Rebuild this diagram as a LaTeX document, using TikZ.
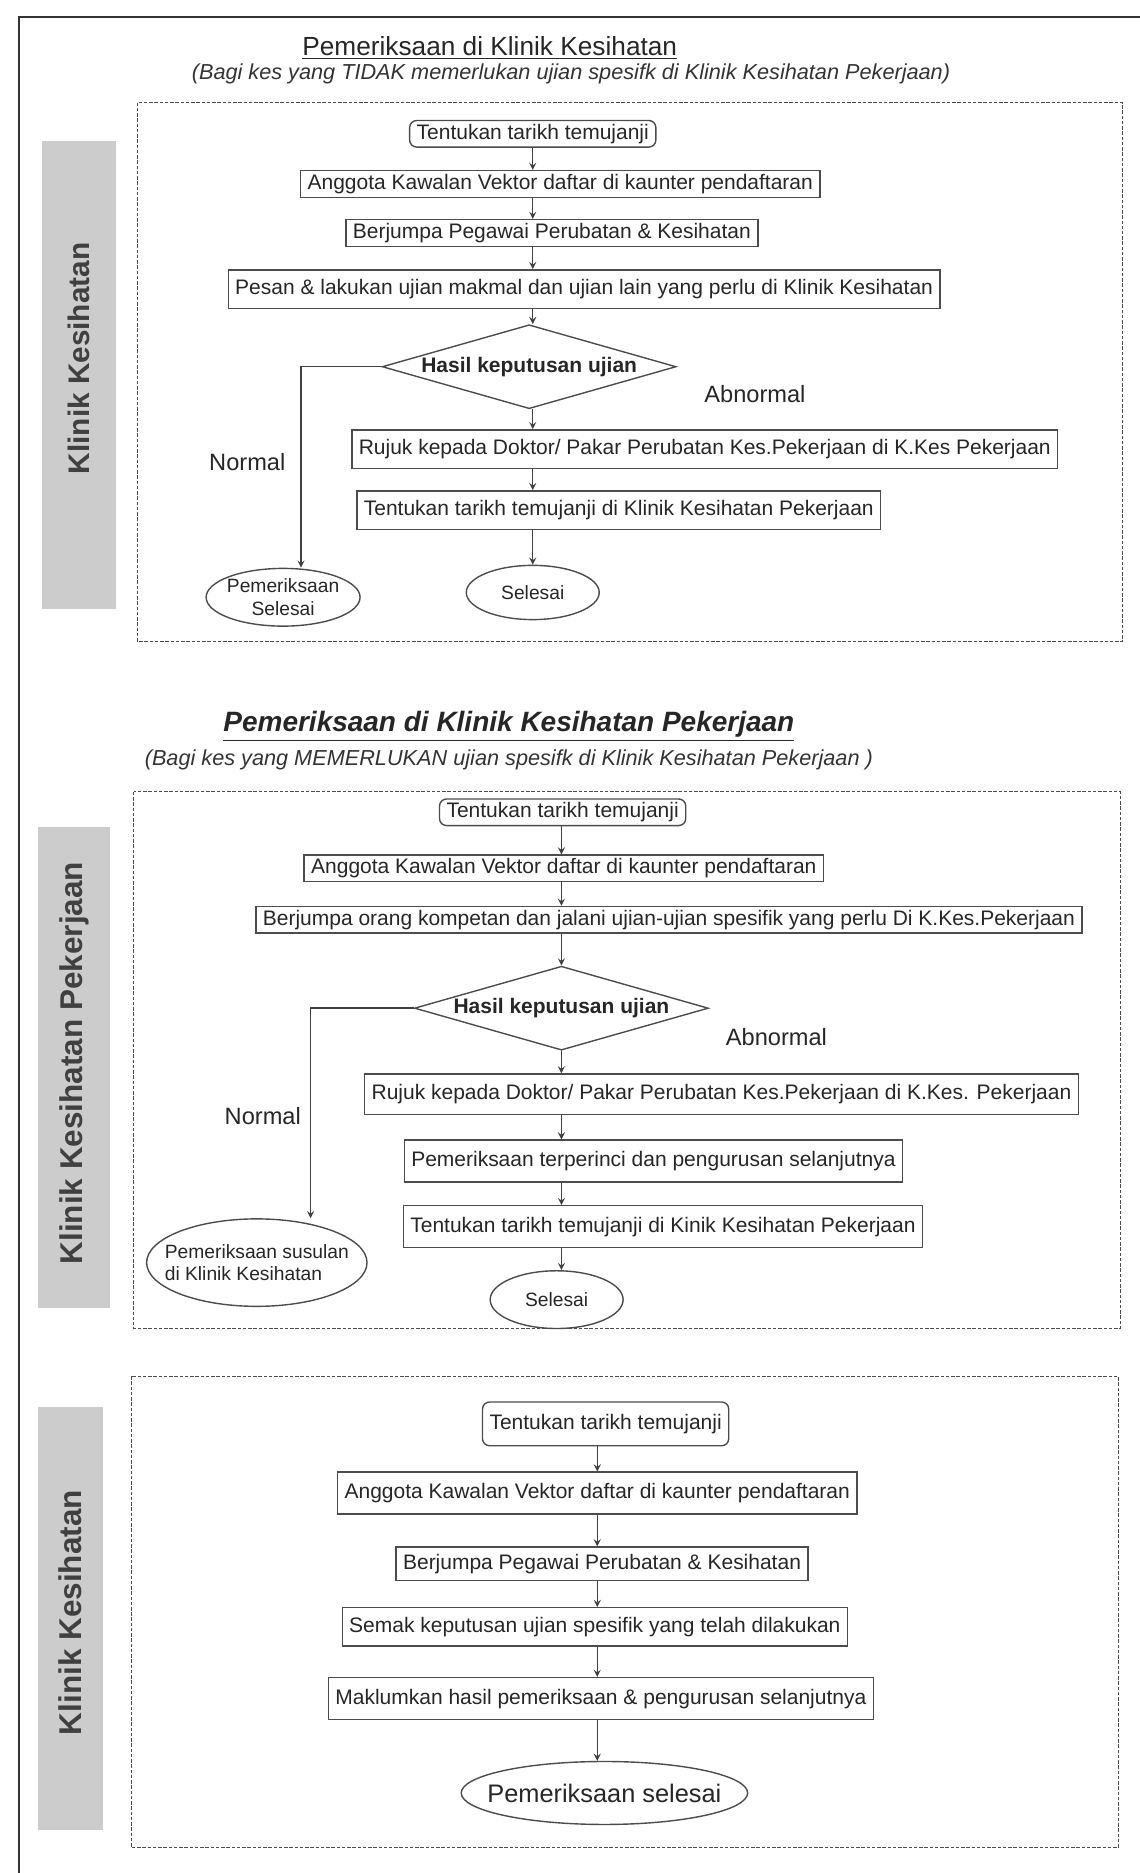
\documentclass[tikz,border=0pt]{standalone}
\usepackage{fontspec}
\setmainfont{Liberation Sans}
\usetikzlibrary{shapes.geometric}

\tikzset{
  stepbox/.style={draw=black!70,line width=0.8pt,inner xsep=4pt,inner ysep=2pt,
    text=black!85,font=\fontsize{12}{14}\selectfont},
  termbox/.style={stepbox,rounded corners=4pt},
  decision/.style={diamond,draw=black!70,line width=0.8pt,aspect=3.5,inner sep=0pt,
    minimum width=168pt,minimum height=48pt,text=black!85,font=\bfseries\fontsize{12}{14}\selectfont},
  endnode/.style={ellipse,draw=black!70,line width=0.8pt,inner sep=1pt,text=black!85,
    align=center,font=\fontsize{11}{13}\selectfont},
  branch/.style={text=black!85,font=\fontsize{13.5}{16}\selectfont},
  sidebar/.style={fill=black!20,draw=none},
  sidetext/.style={rotate=90,text=black!75,font=\bfseries\fontsize{17}{20}\selectfont},
  frame/.style={draw=black!70,line width=0.6pt,dash pattern=on 2pt off 1pt},
  arr/.style={draw=black!75,line width=0.8pt,-stealth}
}

\begin{document}
\begin{tikzpicture}[x=0.24mm,y=-0.24mm]
\useasboundingbox (0,0) rectangle (954,1568);

% page border
\draw[black!80,line width=1pt] (16,1568) -- (16,14) -- (954,14);

% ---- first part
\node[text=black!85,font=\fontsize{15}{18}\selectfont] (t1) at (410,40)
  {\underline{Pemeriksaan di Klinik Kesihatan}};
\node[text=black!80,font=\itshape\fontsize{12.4}{14}\selectfont] (t1sub) at (478,62)
  {(Bagi kes yang TIDAK memerlukan ujian spesifk di Klinik Kesihatan Pekerjaan)};
\draw[frame] (115,86) rectangle (940,537);
\fill[sidebar] (35,118) rectangle (97,510);
\node[sidetext] (side1) at (66,300) {Klinik Kesihatan};

\coordinate (axis1) at (446,0);
\node[termbox] (s1start) at (446,112) {Tentukan tarikh temujanji};
\node[stepbox] (s1reg) at (469,154) {Anggota Kawalan Vektor daftar di kaunter pendaftaran};
\node[stepbox] (s1meet) at (462,195) {Berjumpa Pegawai Perubatan \& Kesihatan};
\node[stepbox,minimum height=22pt] (s1lab) at (489,242) {Pesan \& lakukan ujian makmal dan ujian lain yang perlu di Klinik Kesihatan};
\node[decision] (s1dec) at (443,307) {Hasil keputusan ujian};
\node[stepbox,minimum height=22pt] (s1refer) at (590,376) {Rujuk kepada Doktor/ Pakar Perubatan Kes.Pekerjaan di K.Kes Pekerjaan};
\node[stepbox,minimum height=22pt] (s1appt) at (518,427) {Tentukan tarikh temujanji di Klinik Kesihatan Pekerjaan};
\node[endnode,minimum width=76pt,minimum height=31pt] (s1end) at (446,496) {Selesai};
\node[endnode,inner xsep=-2pt,minimum width=88pt,minimum height=33pt] (s1done) at (237,500) {Pemeriksaan\\Selesai};
\node[branch] (s1abn) at (632,330) {Abnormal};
\node[branch] (s1norm) at (207,387) {Normal};

\foreach \a/\b in {s1start/s1reg,s1reg/s1meet,s1meet/s1lab,s1lab/s1dec,
                   s1dec/s1refer,s1refer/s1appt,s1appt/s1end}
  \draw[arr] (\a.south -| axis1) -- (\b.north -| axis1);
\coordinate (s1turn) at (252,307);
\draw[arr] (s1dec.west) -- (s1turn) -- (s1turn |- s1done.north);

% ---- second part
\node[text=black!85,font=\bfseries\itshape\fontsize{16}{19}\selectfont] (t2) at (426,608)
  {\underline{Pemeriksaan di Klinik Kesihatan Pekerjaan}};
\node[text=black!80,font=\itshape\fontsize{12.4}{14}\selectfont] (t2sub) at (426,636)
  {(Bagi kes yang MEMERLUKAN ujian spesifk di Klinik Kesihatan Pekerjaan )};
\draw[frame] (112,663) rectangle (938,1112);
\fill[sidebar] (32,692) rectangle (92,1095);
\node[sidetext,font=\bfseries\fontsize{18}{21}\selectfont] (side2) at (62,890) {Klinik Kesihatan Pekerjaan};

\coordinate (axis2) at (470,0);
\node[termbox] (s2start) at (471,680) {Tentukan tarikh temujanji};
\node[stepbox] (s2reg) at (472,727) {Anggota Kawalan Vektor daftar di kaunter pendaftaran};
\node[stepbox] (s2test) at (560,770) {Berjumpa orang kompetan dan jalani ujian-ujian spesifik yang perlu Di K.Kes.Pekerjaan};
\node[decision] (s2dec) at (470,844) {Hasil keputusan ujian};
\node[stepbox,minimum height=23pt] (s2refer) at (604,916) {Rujuk kepada Doktor/ Pakar Perubatan Kes.Pekerjaan di K.Kes. Pekerjaan};
\node[stepbox,minimum height=24pt] (s2exam) at (547,972) {Pemeriksaan terperinci dan pengurusan selanjutnya};
\node[stepbox,minimum height=24pt] (s2appt) at (555,1027) {Tentukan tarikh temujanji di Kinik Kesihatan Pekerjaan};
\node[endnode,minimum width=76pt,minimum height=33pt] (s2end) at (466,1088) {Selesai};
\node[endnode,align=left,inner xsep=-12pt,minimum width=126pt,minimum height=50pt] (s2follow) at (215,1057)
  {Pemeriksaan susulan\\di Klinik Kesihatan};
\node[branch] (s2abn) at (650,868) {Abnormal};
\node[branch] (s2norm) at (220,934) {Normal};

\foreach \a/\b in {s2start/s2reg,s2reg/s2test,s2test/s2dec,s2dec/s2refer,
                   s2refer/s2exam,s2exam/s2appt,s2appt/s2end}
  \draw[arr] (\a.south -| axis2) -- (\b.north -| axis2);
\coordinate (s2turn) at (260,844);
\draw[arr] (s2dec.west) -- (s2turn) -- (s2turn |- s2follow.north);

% ---- third part
\draw[frame] (110,1152) rectangle (936,1547);
\fill[sidebar] (32,1178) rectangle (86,1532);
\node[sidetext,font=\bfseries\fontsize{18}{21}\selectfont] (side3) at (59,1350) {Klinik Kesihatan};

\coordinate (axis3) at (500,0);
\node[termbox,minimum height=25pt] (s3start) at (507,1192) {Tentukan tarikh temujanji};
\node[stepbox,minimum height=24pt] (s3reg) at (500,1250) {Anggota Kawalan Vektor daftar di kaunter pendaftaran};
\node[stepbox,minimum height=19pt] (s3meet) at (504,1309) {Berjumpa Pegawai Perubatan \& Kesihatan};
\node[stepbox,minimum height=22pt] (s3check) at (498,1362) {Semak keputusan ujian spesifik yang telah dilakukan};
\node[stepbox,minimum height=24pt] (s3inform) at (503,1422) {Maklumkan hasil pemeriksaan \& pengurusan selanjutnya};
\node[endnode,font=\fontsize{14.5}{17}\selectfont,inner xsep=-9pt,minimum width=161pt,minimum height=36pt] (s3end) at (506,1501) {Pemeriksaan selesai};

\foreach \a/\b in {s3start/s3reg,s3reg/s3meet,s3meet/s3check,s3check/s3inform,s3inform/s3end}
  \draw[arr] (\a.south -| axis3) -- (\b.north -| axis3);
\end{tikzpicture}
\end{document}
